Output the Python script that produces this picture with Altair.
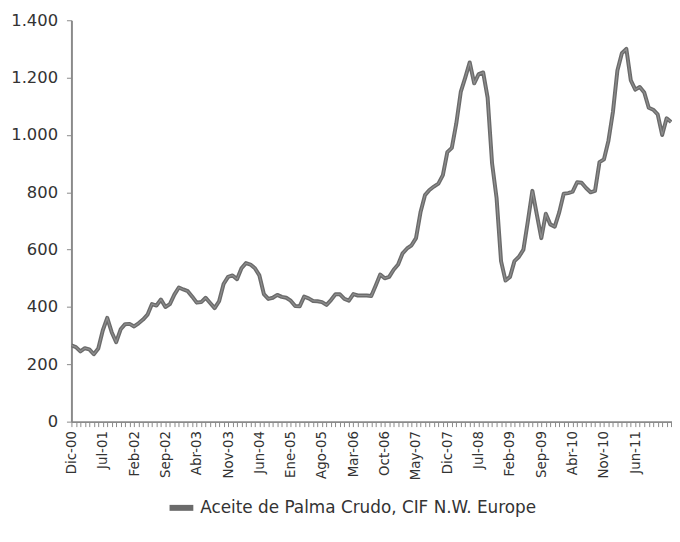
import altair as alt
import pandas as pd

# Tick labels every 7 months, starting at Dic-00
tick_labels = ["Dic-00", "Jul-01", "Feb-02", "Sep-02", "Abr-03", "Nov-03", "Jun-04",
               "Ene-05", "Ago-05", "Mar-06", "Oct-06", "May-07", "Dic-07", "Jul-08",
               "Feb-09", "Sep-09", "Abr-10", "Nov-10", "Jun-11"]

# Monthly price (USD/t), Dic-00 onwards
prices = [266, 260, 245, 256, 252, 235, 255, 318, 362, 312,
          277, 322, 340, 341, 332, 343, 356, 373, 410, 405,
          426, 400, 410, 443, 468, 461, 455, 436, 415, 417,
          432, 414, 396, 420, 480, 505, 510, 497, 535, 553,
          548, 535, 510, 445, 428, 432, 442, 435, 432, 422,
          403, 402, 436, 430, 421, 420, 417, 407, 424, 444,
          444, 428, 422, 445, 440, 440, 440, 438, 475, 513,
          500, 505, 530, 548, 587, 604, 615, 640, 730, 790,
          808, 820, 830, 860, 940, 955, 1040, 1150, 1200, 1253,
          1180, 1212, 1218, 1130, 900, 780, 560, 492, 505, 560,
          575, 600, 700, 805, 722, 640, 725, 688, 680, 730,
          795, 797, 802, 835, 833, 815, 800, 805, 905, 915,
          980, 1080, 1225, 1285, 1300, 1190, 1158, 1167, 1148, 1095,
          1088, 1072, 1000, 1058, 1045]

y_ticks = [0, 200, 400, 600, 800, 1000, 1200, 1400]
series_name = "Aceite de Palma Crudo, CIF N.W. Europe"

df = pd.DataFrame({"mes": list(range(len(prices))), "precio": prices, "serie": series_name})

label_js = "[" + ",".join("'%s'" % l for l in tick_labels) + "]"
x_label_expr = "datum.value % 7 == 0 ? " + label_js + "[floor(datum.value / 7)] : ''"

FONT = "DejaVu Sans"

x_enc = alt.X(
    "mes:Q",
    scale=alt.Scale(domain=[0, 134.2], nice=False, zero=False),
    axis=alt.Axis(
        values=list(range(0, 135)),
        tickCount=300,
        labelExpr=x_label_expr,
        labelAngle=270,
        labelOverlap=False,
        labelBound=False,
        labelPadding=4,
        tickSize=5,
        title=None,
        grid=False,
    ),
)
y_enc = alt.Y(
    "precio:Q",
    scale=alt.Scale(domain=[0, 1400], nice=False),
    axis=alt.Axis(
        values=y_ticks,
        tickCount=20,
        labelExpr="replace(format(datum.value, ','), ',', '.')",
        tickSize=5,
        labelPadding=9,
        title=None,
        grid=False,
    ),
)

outer = alt.Chart(df).mark_line(strokeWidth=4, clip=True, strokeJoin="round").encode(
    x=x_enc,
    y=y_enc,
    color=alt.Color(
        "serie:N",
        scale=alt.Scale(range=["#6b6b6b"]),
        legend=alt.Legend(
            orient="none",
            legendX=96,
            legendY=477,
            title=None,
            symbolType="stroke",
            symbolStrokeWidth=6,
            symbolSize=576,
            labelFontSize=17,
            labelFont=FONT,
            labelColor="#333333",
            labelLimit=600,
            padding=0,
        ),
    ),
)

inner = alt.Chart(df).mark_line(strokeWidth=1.2, clip=True, color="#8e8e8e").encode(
    x="mes:Q",
    y="precio:Q",
)

chart = (
    alt.layer(outer, inner)
    .properties(
        width=606,
        height=405,
        autosize=alt.AutoSizeParams(type="none"),
        padding={"left": 64, "top": 10, "right": 0, "bottom": 110},
    )
    .configure_view(stroke=None)
    .configure_axis(
        domainColor="#8a8a8a",
        domainWidth=2,
        tickColor="#8a8a8a",
        tickWidth=1,
        labelColor="#333333",
        labelFont=FONT,
        labelFontSize=16.5,
    )
    .configure_axisX(labelFontSize=13.5)
)

chart.save("out.html", embed_options={"renderer": "svg", "actions": False})
